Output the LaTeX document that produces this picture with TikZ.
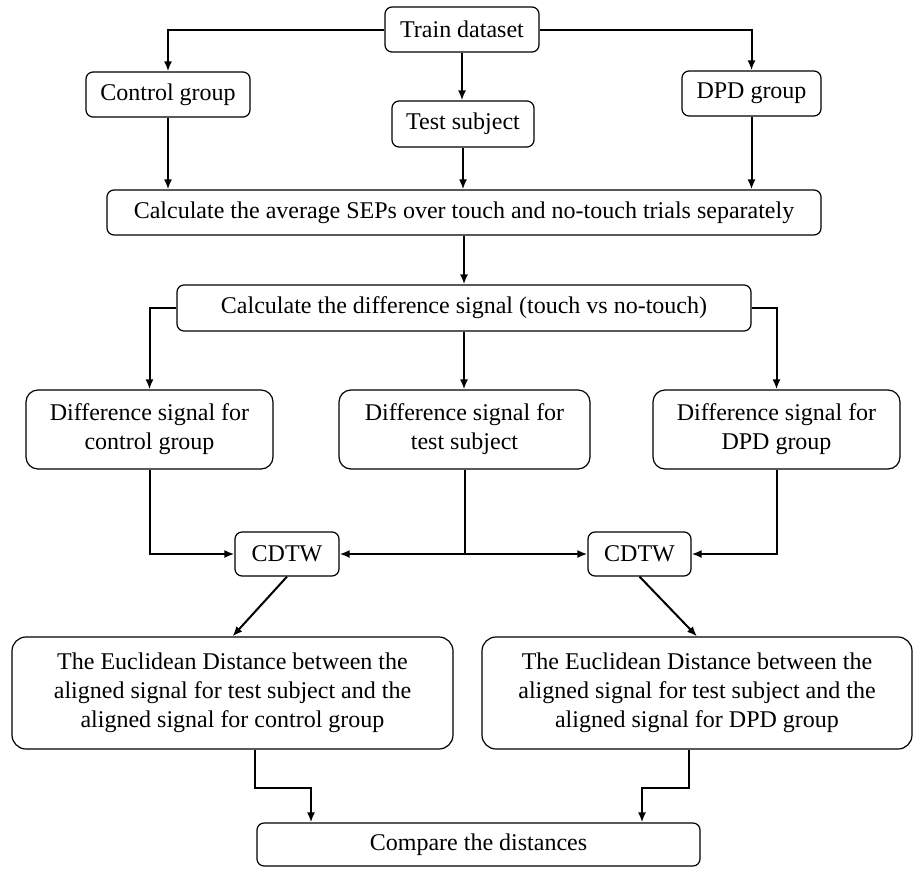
\documentclass[tikz,border=0pt]{standalone}
\usepackage{fontspec}
\setmainfont{Liberation Serif}
\usetikzlibrary{arrows.meta}
\begin{document}
\begin{tikzpicture}[x=1pt,y=-1pt,
  box/.style={draw, line width=1.2pt, rounded corners=7pt, inner sep=0pt, align=center,
    font=\fontsize{24}{29}\selectfont},
  bigbox/.style={box, rounded corners=14pt},
  arr/.style={line width=2pt, -{Latex[length=10pt,width=8pt]}},
  ln/.style={line width=2pt}]
\useasboundingbox (0,0) rectangle (913,868);
\node[box, minimum width=154pt, minimum height=45pt] (train) at (462,29.5) {Train dataset};
\node[box, minimum width=164pt, minimum height=45pt] (ctrl) at (168,94.5) {Control group};
\node[box, minimum width=142pt, minimum height=46pt] (test) at (463,124) {Test subject};
\node[box, minimum width=139pt, minimum height=45pt] (dpd) at (751.5,93.5) {DPD group};
\node[box, minimum width=714pt, minimum height=45pt] (sep) at (464,212.5) {Calculate the average SEPs over touch and no-touch trials separately};
\node[box, minimum width=574pt, minimum height=46pt] (diff) at (464,308) {Calculate the difference signal (touch vs no-touch)};
\node[bigbox, rounded corners=12pt, minimum width=247pt, minimum height=79pt] (dc) at (149.5,429.5) {Difference signal for\\control group};
\node[bigbox, rounded corners=12pt, minimum width=251pt, minimum height=79pt] (dt) at (464.5,429.5) {Difference signal for\\test subject};
\node[bigbox, rounded corners=12pt, minimum width=247pt, minimum height=79pt] (dd) at (776.5,429.5) {Difference signal for\\DPD group};
\node[box, minimum width=104pt, minimum height=44pt] (c1) at (287,554) {CDTW};
\node[box, minimum width=103pt, minimum height=44pt] (c2) at (639.5,554) {CDTW};
\node[bigbox, minimum width=441pt, minimum height=112pt] (e1) at (232.5,693) {The Euclidean Distance between the\\aligned signal for test subject and the\\aligned signal for control group};
\node[bigbox, minimum width=430pt, minimum height=112pt] (e2) at (697,693) {The Euclidean Distance between the\\aligned signal for test subject and the\\aligned signal for DPD group};
\node[box, minimum width=443pt, minimum height=43pt] (cmp) at (478.5,844.5) {Compare the distances};
% connectors
\draw[arr] (train.west) -| (ctrl.north);
\draw[arr] (train.east) -| (dpd.north);
\draw[arr] (train.south) -- (train.south |- test.north);
\draw[arr] (ctrl.south) -- (ctrl.south |- sep.north);
\draw[arr] (test.south) -- (test.south |- sep.north);
\draw[arr] (dpd.south) -- (dpd.south |- sep.north);
\draw[arr] (sep.south) -- (sep.south |- diff.north);
\draw[arr] (diff.west) -| (dc.north);
\draw[arr] (diff.east) -| (dd.north);
\draw[arr] (diff.south) -- (diff.south |- dt.north);
\draw[arr] (dc.south) |- (c1.west);
\coordinate (j) at (dt.south |- c1.west);
\draw[ln] (dt.south) -- (j);
\draw[arr] (j) -- (c1.east);
\draw[arr] (j) -- (c2.west);
\draw[arr] (dd.south) |- (c2.east);
\draw[arr] (c1.south) -- (e1.north);
\draw[arr] (c2.south) -- (e2.north);
\coordinate (k1) at ([xshift=22.5pt]e1.south);
\coordinate (k2) at ([xshift=-8pt]e2.south);
\coordinate (t1) at ([xshift=-167.5pt]cmp.north);
\coordinate (t2) at ([xshift=163.5pt]cmp.north);
\draw[arr] (k1) -- ++(0,38) -| (t1);
\draw[arr] (k2) -- ++(0,38) -| (t2);
\end{tikzpicture}
\end{document}
